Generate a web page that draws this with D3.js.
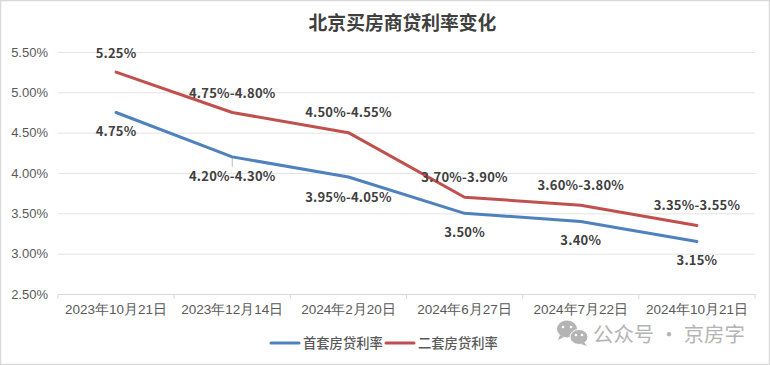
<!DOCTYPE html>
<html>

<head>
  <meta charset="utf-8">
  <script src="https://d3js.org/d3.v7.min.js"></script>
  <style>
    html, body { margin: 0; padding: 0; background: #fff; overflow: hidden; }
    svg { display: block; font-family: "Noto Sans CJK SC", "Noto Sans", sans-serif; }
  </style>
</head>

<body>
  <div id="chart"></div>

  <script>
    // chart data
    var dates = ["2023年10月21日", "2023年12月14日", "2024年2月20日", "2024年6月27日", "2024年7月22日", "2024年10月21日"];
    var firstHome = [4.75, 4.20, 3.95, 3.50, 3.40, 3.15];
    var secondHome = [5.25, 4.75, 4.50, 3.70, 3.60, 3.35];
    var firstLabels = ["4.75%", "4.20%-4.30%", "3.95%-4.05%", "3.50%", "3.40%", "3.15%"];
    var secondLabels = ["5.25%", "4.75%-4.80%", "4.50%-4.55%", "3.70%-3.90%", "3.60%-3.80%", "3.35%-3.55%"];
    var yTicks = [2.5, 3, 3.5, 4, 4.5, 5, 5.5];

    // label nudges from the point, in px
    var firstNudge = [[0, 19], [0, 20], [0, 20], [0, 19], [0, 19], [0, 19]];
    var secondNudge = [[0, -19], [0, -19], [0, -20], [0, -20], [0, -20], [0, -20]];

    var width = 770, height = 365;
    var margin = { top: 52, right: 15, bottom: 71, left: 58 };

    var svg = d3.select("#chart").append("svg")
      .attr("width", width)
      .attr("height", height);

    // outer frame
    svg.append("rect")
      .attr("x", 0.5).attr("y", 0.5)
      .attr("width", width - 1).attr("height", height - 1)
      .attr("fill", "#fff")
      .attr("stroke", "#d9d9d9")
      .attr("stroke-width", 1.5);

    svg.append("text")
      .attr("x", 402.5).attr("y", 30)
      .attr("text-anchor", "middle")
      .attr("font-size", 18.8).attr("font-weight", 700)
      .attr("fill", "#404040")
      .text("北京买房商贷利率变化");

    var x = d3.scaleBand().domain(dates).range([margin.left, width - margin.right]);
    var y = d3.scaleLinear().domain([2.5, 5.5]).range([height - margin.bottom, margin.top]);

    // gridlines + y axis
    var yAxis = svg.append("g")
      .attr("transform", "translate(" + margin.left + ",0)")
      .call(d3.axisLeft(y).tickValues(yTicks).tickFormat(function (d) { return d.toFixed(2) + "%"; })
        .tickSize(-(width - margin.left - margin.right)).tickPadding(10));
    yAxis.select(".domain").remove();
    yAxis.selectAll("line").attr("stroke", "#e3e3e3");
    yAxis.selectAll("text").attr("font-size", 13).attr("fill", "#595959")
      .attr("font-family", "inherit");

    // x axis, ticks sit between the categories
    var xAxis = svg.append("g")
      .attr("transform", "translate(0," + (height - margin.bottom) + ")")
      .call(d3.axisBottom(x).tickSize(0).tickPadding(10));
    xAxis.select(".domain").attr("stroke", "#d9d9d9");
    xAxis.selectAll("text").attr("font-size", 13.5).attr("fill", "#595959")
      .attr("font-family", "inherit");
    xAxis.selectAll(".sep")
      .data(dates.concat(["end"]))
      .enter().append("line")
      .attr("class", "sep")
      .attr("x1", function (d, i) { return margin.left + i * x.step(); })
      .attr("x2", function (d, i) { return margin.left + i * x.step(); })
      .attr("y1", 0).attr("y2", 5)
      .attr("stroke", "#d9d9d9");

    var line = d3.line()
      .x(function (d, i) { return x(dates[i]) + x.bandwidth() / 2; })
      .y(function (d) { return y(d); });

    // little leader line under the second blue point
    svg.append("line")
      .attr("x1", x(dates[1]) + x.bandwidth() / 2).attr("x2", x(dates[1]) + x.bandwidth() / 2)
      .attr("y1", y(firstHome[1])).attr("y2", y(firstHome[1]) + 10)
      .attr("stroke", "#bfbfbf");

    function drawSeries(values, labels, nudge, color) {
      svg.append("path")
        .datum(values)
        .attr("fill", "none")
        .attr("stroke", color)
        .attr("stroke-width", 3)
        .attr("stroke-linecap", "round")
        .attr("stroke-linejoin", "round")
        .attr("d", line);

      svg.append("g").selectAll("text")
        .data(values)
        .enter().append("text")
        .attr("x", function (d, i) { return x(dates[i]) + x.bandwidth() / 2 + nudge[i][0]; })
        .attr("y", function (d, i) { return y(d) + nudge[i][1]; })
        .attr("dy", "0.35em")
        .attr("text-anchor", "middle")
        .attr("font-size", 13).attr("font-weight", 700)
        .attr("letter-spacing", "0.2px")
        .attr("fill", "#404040")
        .text(function (d, i) { return labels[i]; });
    }

    drawSeries(firstHome, firstLabels, firstNudge, "#4f81bd");
    drawSeries(secondHome, secondLabels, secondNudge, "#c0504d");

    // legend
    var legend = [["首套房贷利率", "#4f81bd", 271], ["二套房贷利率", "#c0504d", 386]];
    legend.forEach(function (l) {
      svg.append("line")
        .attr("x1", l[2]).attr("x2", l[2] + 28)
        .attr("y1", 343).attr("y2", 343)
        .attr("stroke", l[1]).attr("stroke-width", 3).attr("stroke-linecap", "round");
      svg.append("text")
        .attr("x", l[2] + 32).attr("y", 343)
        .attr("dy", "0.35em")
        .attr("font-size", 13.3).attr("font-weight", 500)
        .attr("fill", "#595959")
        .text(l[0]);
    });

    // wechat style watermark
    var mark = svg.append("g").attr("fill", "#b4b4b4");
    mark.append("ellipse").attr("cx", 567).attr("cy", 329).attr("rx", 10).attr("ry", 8.5);
    mark.append("path").attr("d", "M560 335l-2 5 6-3z");
    mark.append("ellipse").attr("cx", 579).attr("cy", 337).attr("rx", 9).attr("ry", 7.5)
      .attr("stroke", "#fff").attr("stroke-width", 1);
    mark.append("path").attr("d", "M584 342l3 4-6-2z");
    [[563, 327], [571, 327], [576, 335], [582, 335]].forEach(function (p) {
      mark.append("circle").attr("cx", p[0]).attr("cy", p[1]).attr("r", 1.3).attr("fill", "#fff");
    });
    svg.append("text")
      .attr("x", 593).attr("y", 335)
      .attr("dy", "0.35em")
      .attr("font-size", 20.4)
      .attr("fill", "#b4b4b4")
      .text("公众号 · 京房字");
  </script>
</body>

</html>
